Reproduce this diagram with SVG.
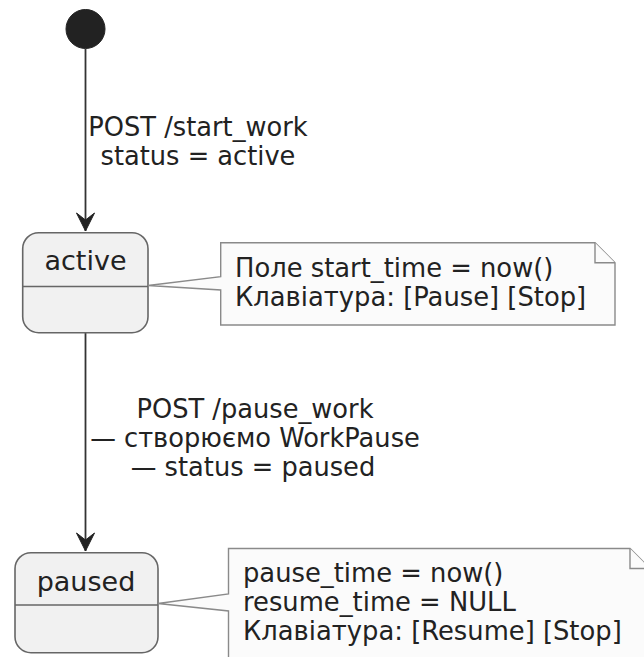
<svg xmlns="http://www.w3.org/2000/svg" width="644" height="657" viewBox="0 0 644 657">
<defs>
<style>
text{font-family:"DejaVu Sans","Liberation Sans",sans-serif;fill:#222}
.lbl{font-size:25.7px;text-anchor:middle}
.note{font-size:25.8px}
.sname{font-size:27px;text-anchor:middle}
.state{fill:#F1F1F1;stroke:#666;stroke-width:1.6}
.div{stroke:#666;stroke-width:1.6}
.notebox{fill:#FBFBFB;stroke:#8a8a8a;stroke-width:1.4}
.edge{stroke:#333;stroke-width:1.8;fill:none}
</style>
<marker id="arr" markerUnits="userSpaceOnUse" markerWidth="24" markerHeight="24" viewBox="-12 -20 24 24" refX="0" refY="0" orient="auto-start-reverse">
<path d="M-9,-18 L0,0 L9,-18 L0,-11 Z" fill="#222" stroke="#222" stroke-width="1"/>
</marker>
</defs>
<rect width="644" height="657" fill="#fff"/>
<g id="edges">
<line class="edge" x1="85.5" y1="49" x2="85.5" y2="231" transform="rotate(0)"/>
<path d="M76.5,213 L85.5,231 L94.5,213 L85.5,220 Z" fill="#222" stroke="#222"/>
<text class="lbl" x="198" y="136">POST /start_work</text>
<text class="lbl" x="198" y="165">status = active</text>
<line class="edge" x1="85.5" y1="333" x2="85.5" y2="551"/>
<path d="M76.5,533 L85.5,551 L94.5,533 L85.5,540 Z" fill="#222" stroke="#222"/>
<text class="lbl" x="255" y="418">POST /pause_work</text>
<text class="lbl" x="255" y="447">— створюємо WorkPause</text>
<text class="lbl" x="253" y="476">— status = paused</text>
</g>
<g id="start">
<circle cx="85.5" cy="29" r="19.5" fill="#222" stroke="#222"/>
</g>
<g id="active">
<rect class="state" x="22.7" y="232.7" width="125.3" height="100" rx="16"/>
<line class="div" x1="22.7" y1="286.5" x2="148" y2="286.5"/>
<text class="sname" x="85.5" y="269.5">active</text>
</g>
<g id="note-active">
<path class="notebox" d="M220.7,242.7 L595,242.7 L615,262.7 L615,325 L220.7,325 L220.7,290 L148,285.5 L220.7,276.7 Z"/>
<path class="notebox" d="M595,242.7 L595,262.7 L615,262.7" fill="none"/>
<text class="note" x="235" y="277">Поле start_time = now()</text>
<text class="note" x="235" y="305.5">Клавіатура: [Pause] [Stop]</text>
</g>
<g id="paused">
<rect class="state" x="15" y="552.7" width="143" height="100" rx="16"/>
<line class="div" x1="15" y1="605" x2="158" y2="605"/>
<text class="sname" x="86" y="590.5">paused</text>
</g>
<g id="note-paused">
<path class="notebox" d="M228.5,548.5 L630,548.5 L650,568.5 L650,680 L228.5,680 L228.5,611 L158,603.5 L228.5,594 Z"/>
<path class="notebox" d="M630,548.5 L630,568.5 L650,568.5" fill="none"/>
<text class="note" x="243" y="582">pause_time = now()</text>
<text class="note" x="243" y="611">resume_time = NULL</text>
<text class="note" x="243" y="640">Клавіатура: [Resume] [Stop]</text>
</g>
</svg>
